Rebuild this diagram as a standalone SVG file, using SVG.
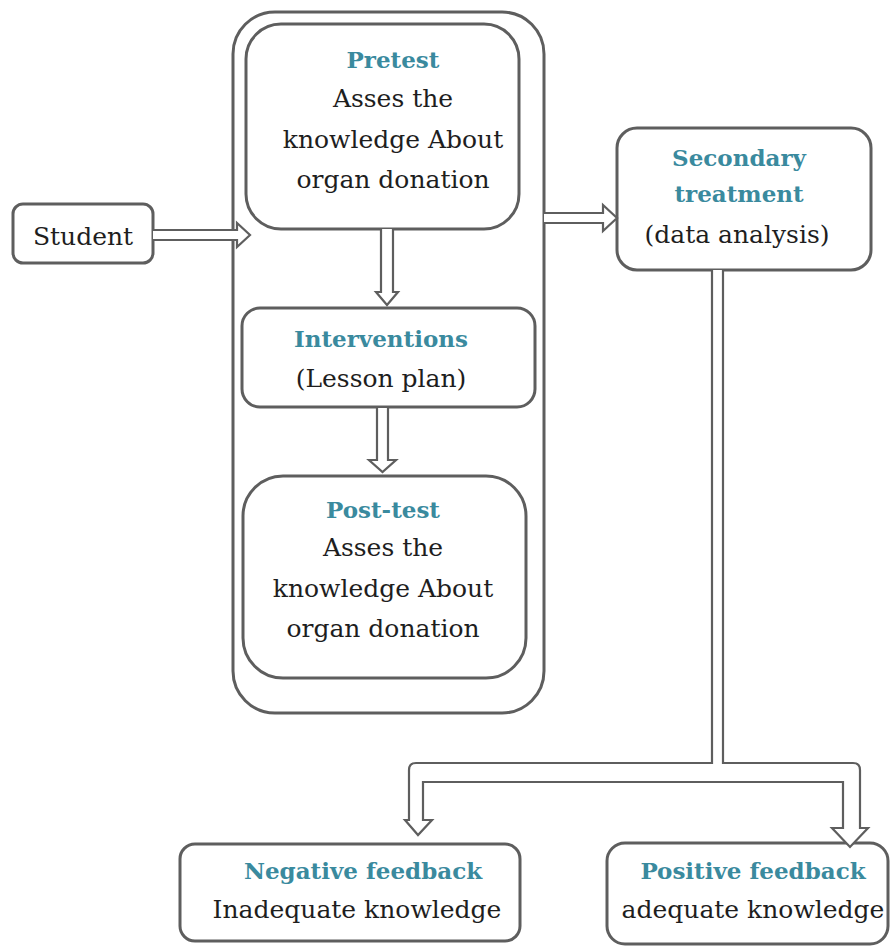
<svg xmlns="http://www.w3.org/2000/svg" width="891" height="946" viewBox="0 0 891 946">
<style>
.box{fill:#ffffff;stroke:#5e5e5e;stroke-width:3}
.arr{fill:#ffffff;stroke:#5e5e5e;stroke-width:2.2;stroke-linejoin:miter}
.t{font-family:"DejaVu Serif","Liberation Serif",serif;font-size:25px;fill:#1e1e1e;text-anchor:middle}
.h{font-family:"DejaVu Serif","Liberation Serif",serif;font-size:23px;font-weight:bold;fill:#3a8a9e;text-anchor:middle}
</style>
<rect width="891" height="946" fill="#ffffff"/>
<g id="container">
<rect class="box" x="233" y="12" width="311" height="701" rx="42"/>
</g>
<g id="student">
<rect class="box" x="13" y="204" width="140" height="59" rx="10"/>
<text class="t" x="83" y="245">Student</text>
</g>
<g id="pretest">
<rect class="box" x="246" y="24" width="273" height="205" rx="35"/>
<text class="h" x="393" y="68">Pretest</text>
<text class="t" x="393" y="107">Asses the</text>
<text class="t" x="393" y="148">knowledge About</text>
<text class="t" x="393" y="188">organ donation</text>
</g>
<g id="interventions">
<rect class="box" x="242" y="308" width="293" height="99" rx="18"/>
<text class="h" x="381" y="347">Interventions</text>
<text class="t" x="381" y="387">(Lesson plan)</text>
</g>
<g id="posttest">
<rect class="box" x="243" y="476" width="283" height="202" rx="40"/>
<text class="h" x="383" y="518">Post-test</text>
<text class="t" x="383" y="556">Asses the</text>
<text class="t" x="383" y="597">knowledge About</text>
<text class="t" x="383" y="637">organ donation</text>
</g>
<g id="secondary">
<rect class="box" x="617" y="128" width="254" height="142" rx="20"/>
<text class="h" x="739" y="166">Secondary</text>
<text class="h" x="739" y="202">treatment</text>
<text class="t" x="737" y="243">(data analysis)</text>
</g>
<g id="negative">
<rect class="box" x="180" y="844" width="340" height="97" rx="15"/>
<text class="h" x="363" y="879">Negative feedback</text>
<text class="t" x="357" y="918">Inadequate knowledge</text>
</g>
<g id="positive">
<rect class="box" x="607" y="843" width="281" height="101" rx="18"/>
<text class="h" x="753" y="879">Positive feedback</text>
<text class="t" x="753" y="918">adequate knowledge</text>
</g>
<g id="connectors">
<path class="arr" d="M153 230 H237 V223 L250 235 L237 247 V240 H153"/>
<path class="arr" d="M381 229 V292 H376 L387 305 L398 292 H393 V229"/>
<path class="arr" d="M377 408 V460 H369 L382.5 472 L396 460 H388 V408"/>
<path class="arr" d="M544 213 H603 V205 L617 218 L603 231 V223 H544"/>
<path class="arr" d="M712 270 V763 H416 Q409 763 409 770 V820 H405 L418 835 L432 820 H423 V782 H843 V828 H832 L850 847 L868 828 H860 V770 Q860 763 853 763 H723 V270"/>
</g>
</svg>
